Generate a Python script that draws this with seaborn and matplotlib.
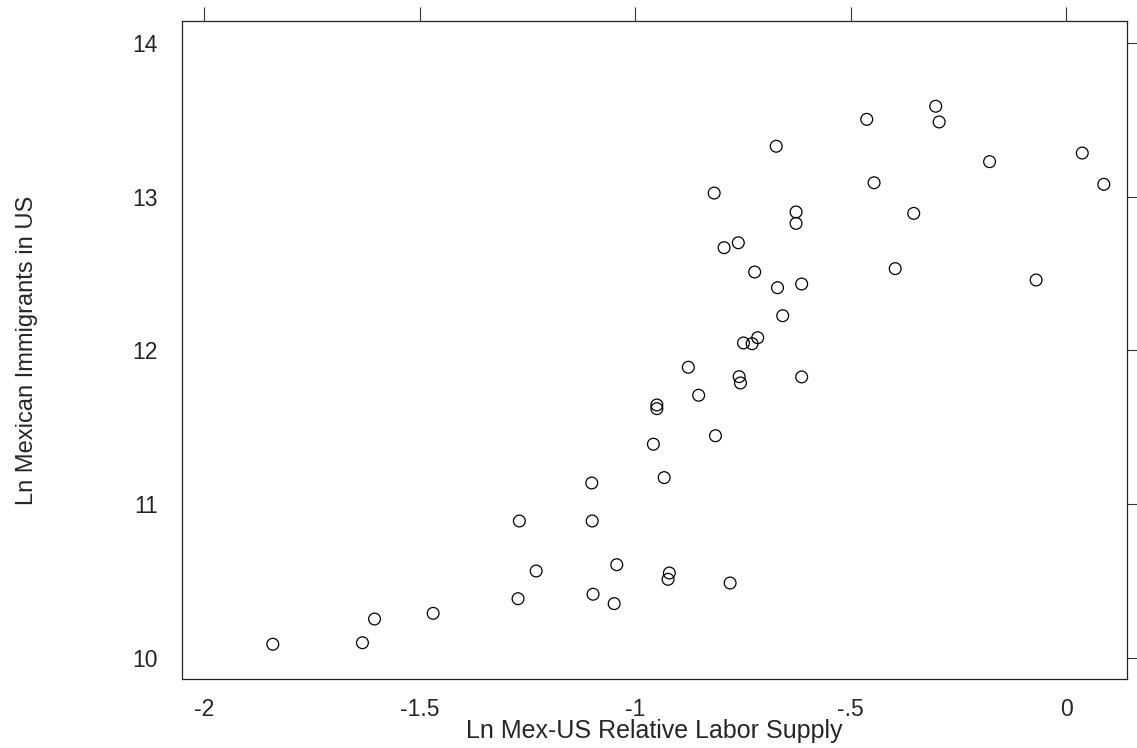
import numpy as np
import pandas as pd
import matplotlib
matplotlib.use("Agg")
import matplotlib.pyplot as plt
from matplotlib.ticker import FuncFormatter
import seaborn as sns

# === Data ===
labor_supply = [
    -1.841, -1.633, -1.605, -1.469, -1.269, -1.272, -1.230, -1.101, -1.100, -1.098,
    -1.043, -1.049, -0.958, -0.950, -0.950, -0.933, -0.921, -0.924, -0.780, -0.814,
    -0.853, -0.877, -0.759, -0.756, -0.614, -0.749, -0.729, -0.716, -0.658, -0.670,
    -0.614, -0.723, -0.794, -0.761, -0.627, -0.627, -0.817, -0.673, -0.463, -0.303,
    -0.295, -0.178, 0.037, 0.087, -0.446, -0.354, -0.397, -0.070,
]
mex_immigrants = [
    10.091, 10.101, 10.255, 10.292, 10.892, 10.387, 10.567, 11.139, 10.892, 10.416,
    10.608, 10.355, 11.391, 11.646, 11.622, 11.174, 10.554, 10.513, 10.489, 11.446,
    11.709, 11.891, 11.830, 11.789, 11.828, 12.049, 12.044, 12.083, 12.226, 12.408,
    12.432, 12.510, 12.668, 12.700, 12.826, 12.900, 13.023, 13.327, 13.502, 13.587,
    13.485, 13.227, 13.283, 13.080, 13.090, 12.891, 12.532, 12.458,
]
x_ticks = [-2, -1.5, -1, -0.5, 0]
y_ticks = [10, 11, 12, 13, 14]

df = pd.DataFrame({"x": labor_supply, "y": mex_immigrants})

sns.set_style("white")
plt.rcParams["font.family"] = ["Liberation Sans", "DejaVu Sans"]

fig = plt.figure(figsize=(11.37, 7.48), dpi=100)
ax = fig.add_axes([0.1598, 0.0922, 0.8311, 0.8793])

sns.scatterplot(data=df, x="x", y="y", ax=ax, s=72, marker="o",
                facecolor="none", edgecolor="black", linewidth=0.9)

ax.set_xlim(-2.0524, 0.140)
ax.set_ylim(9.865, 14.139)
ax.set_xticks(x_ticks)
ax.set_yticks(y_ticks)


# Stata style labels: -.5 instead of -0.5
def stata_fmt(v, pos):
    s = f"{v:g}"
    return s.replace("0.", ".") if abs(v) < 1 and v != 0 else s


ax.xaxis.set_major_formatter(FuncFormatter(stata_fmt))

for side in ["left", "right", "top", "bottom"]:
    ax.spines[side].set_visible(True)
    ax.spines[side].set_color("#222222")
    ax.spines[side].set_linewidth(0.9)

ax.tick_params(axis="both", which="major", direction="out", length=10, width=0.8,
               color="#333333", labelsize=16.5, pad=4,
               top=True, right=True, labeltop=False, labelright=False)
ax.tick_params(axis="y", pad=7)

ax.set_xlabel("Ln Mex-US Relative Labor Supply", fontsize=18, labelpad=-1.5)
ax.set_ylabel("Ln Mexican Immigrants in US", fontsize=17, labelpad=68)

fig.savefig("out.png", dpi=100, facecolor="white")
plt.close(fig)
